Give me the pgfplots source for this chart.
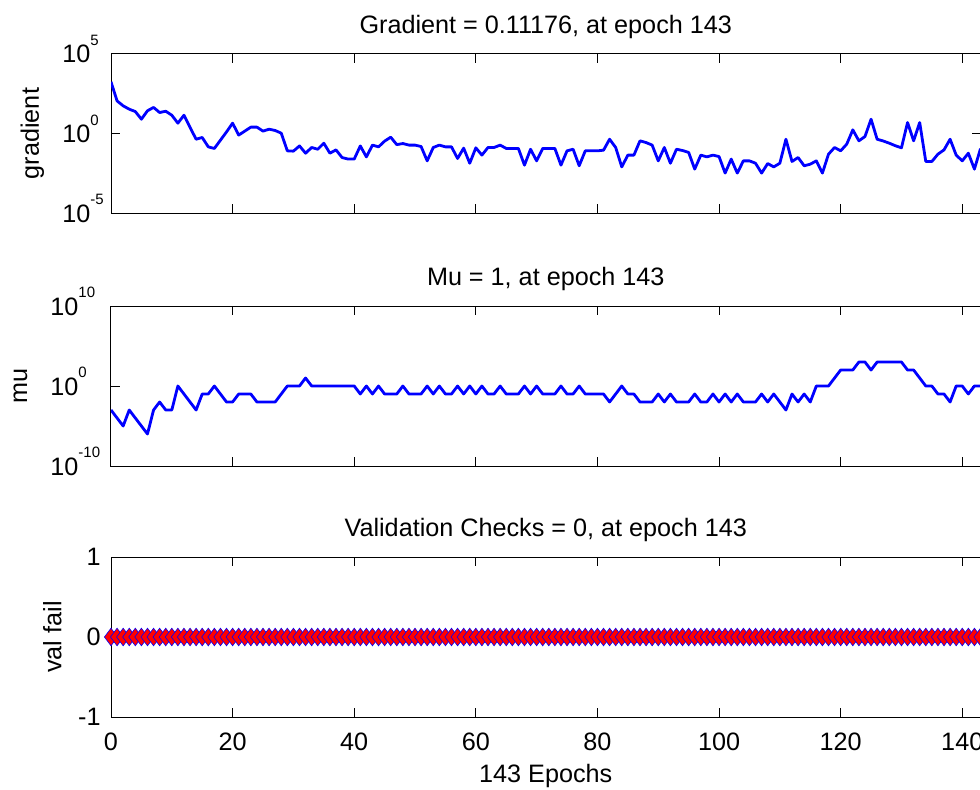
\documentclass[border=0pt]{standalone}
\usepackage{fontspec}
\setmainfont{Liberation Sans}
\usepackage{pgfplots}
\usepackage{pgfplotstable}
\pgfplotsset{compat=1.18}

\newcommand{\ff}{\fontsize{12.6}{15}\selectfont}
\newcommand{\tp}[1]{10\raisebox{8.6pt}{\fontsize{7.5}{8}\selectfont #1}}

% gradient per epoch
\pgfplotstableread{
e g
0 1778
1 112.2
2 54.95
3 33.88
4 23.99
5 7.943
6 26.92
7 43.65
8 20.89
9 25.12
10 14.13
11 4.467
12 14.13
13 2.399
14 0.4365
15 0.5623
16 0.1445
17 0.1148
18 0.3802
19 1.259
20 4.467
21 0.7943
22 1.413
23 2.512
24 2.512
25 1.413
26 1.862
27 1.549
28 1.047
29 0.08128
30 0.07762
31 0.1660
32 0.05754
33 0.1318
34 0.1023
35 0.2455
36 0.05754
37 0.09333
38 0.03090
39 0.02455
40 0.02455
41 0.1660
42 0.03388
43 0.1862
44 0.1445
45 0.3311
46 0.5888
47 0.1995
48 0.2344
49 0.1862
50 0.1862
51 0.1514
52 0.01905
53 0.1318
54 0.1862
55 0.1445
56 0.1445
57 0.02692
58 0.1202
59 0.01349
60 0.1259
61 0.04365
62 0.1318
63 0.1318
64 0.1862
65 0.1148
66 0.1148
67 0.1148
68 0.01023
69 0.1023
70 0.01905
71 0.1148
72 0.1148
73 0.1148
74 0.01023
75 0.08128
76 0.1023
77 0.009333
78 0.08128
79 0.08128
80 0.08128
81 0.08913
82 0.4365
83 0.1318
84 0.007943
85 0.04365
86 0.04365
87 0.3467
88 0.2692
89 0.1862
90 0.01905
91 0.1318
92 0.01349
93 0.1023
94 0.08511
95 0.06457
96 0.005754
97 0.04365
98 0.03388
99 0.04365
100 0.03548
101 0.003236
102 0.02455
103 0.003236
104 0.01905
105 0.01905
106 0.01349
107 0.003236
108 0.01288
109 0.007943
110 0.01349
111 0.4365
112 0.01738
113 0.03090
114 0.009333
115 0.01175
116 0.01905
117 0.003236
118 0.05012
119 0.1318
120 0.08128
121 0.2138
122 1.698
123 0.3467
124 0.6457
125 7.943
126 0.4365
127 0.3388
128 0.2455
129 0.1698
130 0.1259
131 4.898
132 0.3467
133 4.898
134 0.01738
135 0.01738
136 0.05012
137 0.09333
138 0.4365
139 0.04365
140 0.01905
141 0.05754
142 0.005754
143 0.11176
}\gradtab

% mu per epoch
\pgfplotstableread{
e mu
0 1e-3
1 1e-4
2 1e-5
3 1e-3
4 1e-4
5 1e-5
6 1e-6
7 1e-3
8 1e-2
9 1e-3
10 1e-3
11 1
12 1e-1
13 1e-2
14 1e-3
15 1e-1
16 1e-1
17 1
18 1e-1
19 1e-2
20 1e-2
21 1e-1
22 1e-1
23 1e-1
24 1e-2
25 1e-2
26 1e-2
27 1e-2
28 1e-1
29 1
30 1
31 1
32 10
33 1
34 1
35 1
36 1
37 1
38 1
39 1
40 1
41 0.1
42 1
43 0.1
44 1
45 0.1
46 0.1
47 0.1
48 1
49 0.1
50 0.1
51 0.1
52 1
53 0.1
54 1
55 0.1
56 0.1
57 1
58 0.1
59 1
60 0.1
61 1
62 0.1
63 0.1
64 1
65 0.1
66 0.1
67 0.1
68 1
69 0.1
70 1
71 0.1
72 0.1
73 0.1
74 1
75 0.1
76 0.1
77 1
78 0.1
79 0.1
80 0.1
81 0.1
82 0.01
83 0.1
84 1
85 0.1
86 0.1
87 0.01
88 0.01
89 0.01
90 0.1
91 0.01
92 0.1
93 0.01
94 0.01
95 0.01
96 0.1
97 0.01
98 0.01
99 0.1
100 0.01
101 0.1
102 0.01
103 0.1
104 0.01
105 0.01
106 0.01
107 0.1
108 0.01
109 0.1
110 0.01
111 0.001
112 0.1
113 0.01
114 0.1
115 0.01
116 1
117 1
118 1
119 10
120 100
121 100
122 100
123 1000
124 1000
125 100
126 1000
127 1000
128 1000
129 1000
130 1000
131 100
132 100
133 10
134 1
135 1
136 0.1
137 0.1
138 0.01
139 1
140 1
141 0.1
142 1
143 1
}\mutab

\pgfplotsset{
  trainstate/.style={
    scale only axis, width=434.75pt, height=80pt,
    anchor=south west,
    xmin=0, xmax=143,
    xtick={0,20,40,60,80,100,120,140},
    xticklabels={},
    tick align=inside, tick pos=both,
    major tick length=4.3pt,
    axis line style={line width=0.5pt},
    tick style={line width=0.5pt, black},
    font=\ff,
    tick label style={inner sep=0pt, font=\ff},
    title style={at={(axis description cs:0.5,1)}, anchor=base, yshift=4.3pt, font=\ff},
    every axis y label/.style={rotate=90, anchor=center, font=\ff},
  },
}

\begin{document}
\begin{tikzpicture}

\begin{axis}[trainstate, at={(55.5pt,288pt)}, height=79.5pt,
    ymode=log, ymin=1e-5, ymax=1e5,
    ytick={1e-5,1,1e5},
    yticklabels={\tp{-5},\tp{0},\tp{5}},
    yticklabel style={anchor=base west, xshift=-24.5pt, yshift=-4.5pt},
    title={Gradient = 0.11176, at epoch 143},
    ylabel={gradient},
    ylabel style={at={(axis description cs:-0.0903,0.5)}},
]
\addplot[blue, line width=1.4pt, line join=round] table[x=e, y=g] {\gradtab};
\end{axis}

\begin{axis}[trainstate, at={(55.5pt,161.5pt)},
    ymode=log, ymin=1e-10, ymax=1e10,
    ytick={1e-10,1,1e10},
    yticklabels={\tp{-10},\tp{0},\tp{10}},
    yticklabel style={anchor=base west, xshift=-30.5pt, yshift=-4.5pt},
    title={Mu = 1, at epoch 143},
    ylabel={mu},
    ylabel style={at={(axis description cs:-0.1041,0.5)}},
]
\addplot[blue, line width=1.4pt, line join=round] table[x=e, y=mu] {\mutab};
\end{axis}

\begin{axis}[trainstate, at={(55.5pt,36pt)},
    ymin=-1, ymax=1,
    ytick={-1,0,1},
    yticklabels={-1,0,1},
    yticklabel style={anchor=east, xshift=-5pt},
    xticklabels={0,20,40,60,80,100,120,140},
    xticklabel style={anchor=base, yshift=-16.5pt},
    title={Validation Checks = 0, at epoch 143},
    ylabel={val fail},
    ylabel style={at={(axis description cs:-0.0673,0.5)}},
    xlabel={143 Epochs},
    xlabel style={at={(axis description cs:0.5,0)}, anchor=base, yshift=-32.5pt, font=\ff},
]
\addplot[blue, line width=0.5pt, mark=diamond*, mark size=4.4pt,
    mark options={fill=red, draw=blue, line width=0.3pt}] coordinates {
(0,0) (1,0) (2,0) (3,0) (4,0) (5,0) (6,0) (7,0) (8,0) (9,0)
(10,0) (11,0) (12,0) (13,0) (14,0) (15,0) (16,0) (17,0) (18,0) (19,0)
(20,0) (21,0) (22,0) (23,0) (24,0) (25,0) (26,0) (27,0) (28,0) (29,0)
(30,0) (31,0) (32,0) (33,0) (34,0) (35,0) (36,0) (37,0) (38,0) (39,0)
(40,0) (41,0) (42,0) (43,0) (44,0) (45,0) (46,0) (47,0) (48,0) (49,0)
(50,0) (51,0) (52,0) (53,0) (54,0) (55,0) (56,0) (57,0) (58,0) (59,0)
(60,0) (61,0) (62,0) (63,0) (64,0) (65,0) (66,0) (67,0) (68,0) (69,0)
(70,0) (71,0) (72,0) (73,0) (74,0) (75,0) (76,0) (77,0) (78,0) (79,0)
(80,0) (81,0) (82,0) (83,0) (84,0) (85,0) (86,0) (87,0) (88,0) (89,0)
(90,0) (91,0) (92,0) (93,0) (94,0) (95,0) (96,0) (97,0) (98,0) (99,0)
(100,0) (101,0) (102,0) (103,0) (104,0) (105,0) (106,0) (107,0) (108,0) (109,0)
(110,0) (111,0) (112,0) (113,0) (114,0) (115,0) (116,0) (117,0) (118,0) (119,0)
(120,0) (121,0) (122,0) (123,0) (124,0) (125,0) (126,0) (127,0) (128,0) (129,0)
(130,0) (131,0) (132,0) (133,0) (134,0) (135,0) (136,0) (137,0) (138,0) (139,0)
(140,0) (141,0) (142,0) (143,0)
};
\end{axis}

\pgfresetboundingbox
\useasboundingbox (0,0) rectangle (490pt,394.5pt);
\end{tikzpicture}
\end{document}
